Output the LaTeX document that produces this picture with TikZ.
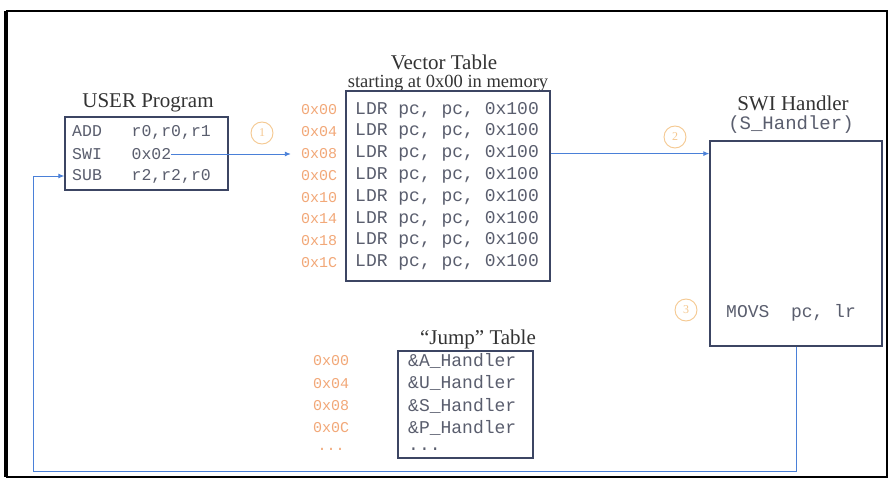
\documentclass[tikz,border=0pt]{standalone}
\usepackage{fontspec}
\setmainfont{Liberation Serif}
\setmonofont{Liberation Mono}
\usetikzlibrary{arrows.meta}
\definecolor{boxc}{HTML}{3C4563}
\definecolor{codec}{HTML}{5A5E6E}
\definecolor{addrc}{HTML}{F2A878}
\definecolor{arrc}{HTML}{4A80D8}
\definecolor{circc}{HTML}{F5C890}
\tikzset{
  box/.style={draw=boxc, line width=1.4pt, inner sep=0pt},
  ttl/.style={font=\fontsize{21}{23}\selectfont, text=black!80, inner sep=0pt},
  sub/.style={font=\fontsize{18.5}{20}\selectfont, text=black!80, inner sep=0pt},
  code/.style={font=\ttfamily\fontsize{18}{19}\selectfont, text=codec, inner sep=0pt, anchor=west},
  ucode/.style={font=\ttfamily\fontsize{16.5}{18}\selectfont, text=codec, inner sep=0pt, anchor=west},
  addr/.style={font=\ttfamily\fontsize{15}{17}\selectfont, text=addrc, inner sep=0pt},
  arr/.style={draw=arrc, line width=0.9pt, -{Latex[length=6pt,width=5pt]}},
  num/.style={circle, draw=circc, line width=0.9pt, minimum size=22pt, inner sep=0pt, text=circc, font=\fontsize{12}{12}\selectfont}
}
\begin{document}
\begin{tikzpicture}[x=1pt,y=-1pt]
\useasboundingbox (0,0) rectangle (894,481);
\fill[white] (0,0) rectangle (894,481);
% outer frame
\draw[black, line width=2.6pt] (7,11) rectangle (887,477);
\draw[black, line width=3pt] (5,11) -- (5,477);

% USER program
\node[ttl] (utitle) at (148,103) {USER Program};
\node[box, minimum width=163pt, minimum height=73pt] (user) at (146.5,153.5) {};
\node[ucode] (add) at (72,132) {ADD~~~r0,r0,r1};
\node[ucode] (swi) at (72,154) {SWI~~~0x02};
\node[ucode] (sub) at (72,176) {SUB~~~r2,r2,r0};

% Vector table
\node[ttl] (vtitle) at (444,62) {Vector Table};
\node[sub] (vsub) at (448,83) {starting at 0x00 in memory};
\node[box, minimum width=204pt, minimum height=190pt] (vt) at (448,186) {};
\foreach \i/\a in {0/00,1/04,2/08,3/0C,4/10,5/14,6/18,7/1C}{
  \node[code] (v\i) at (355,{110+21.8*\i}) {LDR pc, pc, 0x100};
  \node[addr] (va\i) at (319,{110+21.8*\i}) {0x\a};
}

% SWI handler
\node[ttl] (stitle) at (793,103) {SWI Handler};
\node[font=\ttfamily\fontsize{19}{21}\selectfont, text=codec, inner sep=0pt] (ssub) at (791,125) {(S\_Handler)};
\node[box, minimum width=172pt, minimum height=205pt] (sh) at (796,243.5) {};
\node[code] (movs) at (726,313) {MOVS~~pc, lr};

% Jump table
\node[ttl] (jtitle) at (478,339) {``Jump'' Table};
\node[box, minimum width=135pt, minimum height=107pt] (jt) at (465.5,404.5) {};
\foreach \i/\a/\h in {0/00/A,1/04/U,2/08/S,3/0C/P}{
  \node[code] (j\i) at (408,{361+22.3*\i}) {\&\h\_Handler};
  \node[addr] (ja\i) at (331,{361+22.3*\i}) {0x\a};
}
\node[code] (j4) at (408,449) {...};
\node[addr] (ja4) at (331,449) {...};

% step markers
\node[num] (n1) at (262,133) {1};
\node[num] (n2) at (675,137) {2};
\node[num] (n3) at (686,310) {3};

% connectors
\draw[arr] (swi.east) -- ([xshift=-10pt]swi.east -| va2.west);
\draw[arr] (vt.east |- v2) -- (sh.west |- v2);
\coordinate (r1) at (797,471);
\coordinate (r2) at (33,471);
\draw[arr] (sh.south) -- (sh.south |- r1) -- (r2) -- (r2 |- sub) -- (sub -| user.west);
\end{tikzpicture}
\end{document}
